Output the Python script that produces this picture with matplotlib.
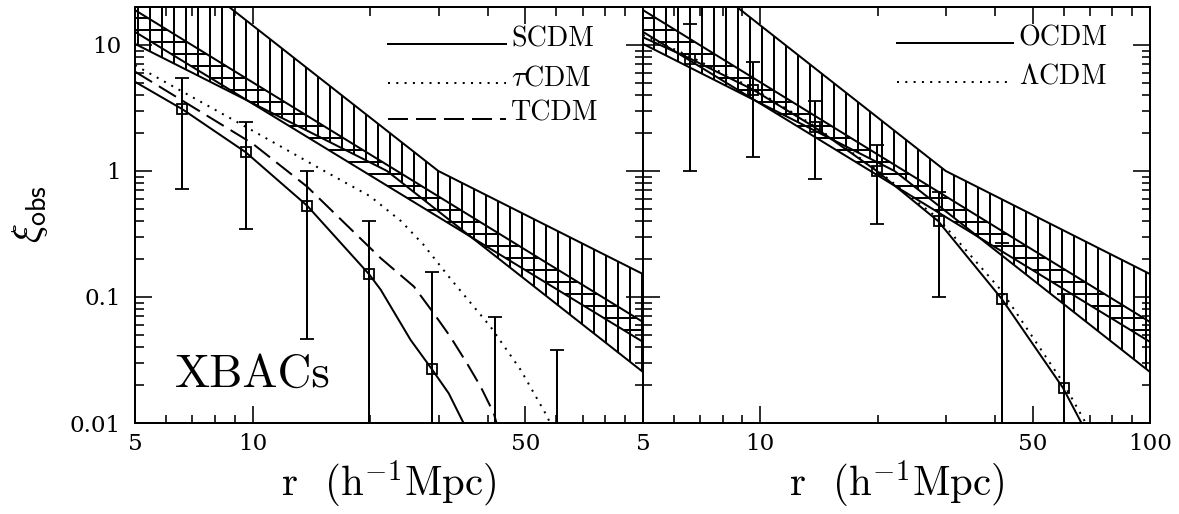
import numpy as np
import matplotlib
matplotlib.use('Agg')
import matplotlib.pyplot as plt
from matplotlib.ticker import FixedLocator, FixedFormatter, NullFormatter

plt.rcParams['font.family'] = 'cmr10'
plt.rcParams['mathtext.fontset'] = 'cm'
plt.rcParams['axes.formatter.use_mathtext'] = True
plt.rcParams['hatch.linewidth'] = 2.0
plt.rcParams['lines.scale_dashes'] = False

# separations of the measured points (h^-1 Mpc)
r_pts = [6.6, 9.6, 13.8, 19.9, 28.8, 41.7, 60.3]

# left panel: points and 1-sigma limits (very low limits run off the bottom)
xi_left = [3.1, 1.41, 0.53, 0.151, 0.0267, 0.003, 0.0007]
hi_left = [5.5, 2.43, 1.0, 0.40, 0.158, 0.069, 0.038]
lo_left = [0.72, 0.348, 0.046, 1e-4, 1e-4, 1e-4, 1e-4]

# right panel
xi_right = [7.8, 4.4, 2.25, 1.0, 0.40, 0.097, 0.019]
hi_right = [14.6, 7.3, 3.6, 1.6, 0.685, 0.27, 0.105]
lo_right = [1.0, 1.28, 0.86, 0.38, 0.10, 1e-4, 1e-4]

# model curves
r_scdm = [5, 6.6, 9.6, 13.8, 19.9, 21.3, 25.4, 28.8, 31.8, 34.7, 36.5]
xi_scdm = [5.1, 3.1, 1.41, 0.53, 0.151, 0.114, 0.0456, 0.0267, 0.0172, 0.01, 0.007]

r_tau = [5, 10, 15, 20, 24, 27.4, 32.1, 40.7, 48.6, 56.9, 59.5]
xi_tau = [6.9, 2.09, 1.03, 0.63, 0.40, 0.26, 0.14, 0.058, 0.0264, 0.0112, 0.008]

r_tcdm = [5, 10, 13.8, 21.3, 25.9, 29.1, 32.1, 35.4, 38.4, 41.5, 43.0]
xi_tcdm = [6.14, 1.65, 0.75, 0.203, 0.121, 0.0743, 0.0484, 0.0298, 0.0194, 0.0119, 0.008]

r_ocdm = [5, 6.6, 9.6, 13.7, 19.9, 28.6, 41.6, 59.8, 66.7, 69.0]
xi_ocdm = [11.5, 7.8, 4.4, 2.25, 1.0, 0.40, 0.097, 0.019, 0.01, 0.008]

r_lcdm = [5, 6.6, 9.6, 13.7, 19.9, 28.6, 41.6, 59.8, 68.4, 70.5]
xi_lcdm = [12.0, 8.1, 4.5, 2.3, 1.02, 0.42, 0.112, 0.021, 0.01, 0.008]

# observed power-law bands
r_wide_hi = [5, 29.9, 100]
xi_wide_hi = [77, 1.0, 0.152]
r_wide_lo = [5, 22.1, 100]
xi_wide_lo = [10.2, 1.0, 0.0254]
r_nar = [5, 100]
xi_nar_hi = [18.9, 0.0633]
xi_nar_lo = [12.7, 0.044]

LW = 2.0
DOTS = (0, (2.0, 6.3))
DASH = (0, (20, 8))

fig = plt.figure(figsize=(1179 / 72, 514 / 72), dpi=72)
ax1 = fig.add_axes([135 / 1179, 91 / 514, 508 / 1179, 416 / 514])
ax2 = fig.add_axes([643 / 1179, 91 / 514, 507 / 1179, 416 / 514])


def draw_bands(ax):
    x = np.concatenate([r_wide_hi, r_wide_lo[::-1]])
    y = np.concatenate([xi_wide_hi, xi_wide_lo[::-1]])
    ax.fill(x, y, facecolor='none', edgecolor='k', hatch='|', linewidth=LW, zorder=2)
    x = np.concatenate([r_nar, r_nar[::-1]])
    y = np.concatenate([xi_nar_hi, xi_nar_lo[::-1]])
    ax.fill(x, y, facecolor='none', edgecolor='k', hatch='-', linewidth=LW, zorder=2)


def draw_points(ax, xi, hi, lo):
    xi = np.array(xi)
    yerr = [xi - np.array(lo), np.array(hi) - xi]
    ax.errorbar(r_pts, xi, yerr=yerr, fmt='s', ms=10.5, mfc='none', mec='k', mew=1.8,
                ecolor='k', elinewidth=LW, capsize=7, capthick=LW, zorder=4)


def style_axes(ax, left_labels):
    ax.set_xscale('log')
    ax.set_yscale('log')
    ax.set_xlim(5, 100)
    ax.set_ylim(0.01, 20)
    ax.xaxis.set_major_locator(FixedLocator([5, 10, 50, 100]))
    ax.xaxis.set_minor_locator(FixedLocator([6, 7, 8, 9, 20, 30, 40, 60, 70, 80, 90]))
    ax.xaxis.set_minor_formatter(NullFormatter())
    ax.yaxis.set_major_locator(FixedLocator([0.01, 0.1, 1, 10]))
    ax.yaxis.set_minor_locator(FixedLocator(
        [m * d for d in (0.01, 0.1, 1) for m in range(2, 10)] + [20]))
    ax.yaxis.set_minor_formatter(NullFormatter())
    ax.tick_params(which='both', direction='in', top=True, right=True, width=1.6)
    ax.tick_params(which='major', length=17)
    ax.tick_params(which='minor', length=8.5)
    ax.tick_params(axis='x', pad=10)
    ax.tick_params(axis='y', pad=14)
    if left_labels:
        ax.xaxis.set_major_formatter(FixedFormatter(['5', '10', '50', '']))
        ax.yaxis.set_major_formatter(FixedFormatter(['0.01', '0.1', '1', '10']))
    else:
        ax.xaxis.set_major_formatter(FixedFormatter(['5', '10', '50', '100']))
        ax.yaxis.set_major_formatter(NullFormatter())
    for lab in ax.get_xticklabels() + ax.get_yticklabels():
        lab.set_fontfamily('DejaVu Serif')
        lab.set_fontsize(23)
    for sp in ax.spines.values():
        sp.set_linewidth(2.0)
    ax.text(0.5, -0.178, r'r  (h$^{-1}$Mpc)', transform=ax.transAxes,
            ha='center', va='baseline', fontsize=41)


def legend_row(ax, x0, x1, y, ls, label):
    ax.plot([x0, x1], [y, y], transform=ax.transAxes, color='k', lw=LW, ls=ls,
            clip_on=False)
    ax.text(x1 + 0.011, y - 0.005, label, transform=ax.transAxes,
            ha='left', va='baseline', fontsize=28)


# left panel: SCDM, tau CDM, TCDM
draw_bands(ax1)
ax1.plot(r_scdm, xi_scdm, color='k', lw=LW, zorder=3)
ax1.plot(r_tau, xi_tau, color='k', lw=LW, ls=DOTS, zorder=3)
ax1.plot(r_tcdm, xi_tcdm, color='k', lw=LW, ls=DASH, zorder=3)
draw_points(ax1, xi_left, hi_left, lo_left)
style_axes(ax1, True)
legend_row(ax1, 0.498, 0.730, 0.911, '-', 'SCDM')
legend_row(ax1, 0.498, 0.730, 0.817, DOTS, r'$\tau$CDM')
legend_row(ax1, 0.498, 0.730, 0.731, DASH, 'TCDM')
ax1.text(0.079, 0.087, 'XBACs', transform=ax1.transAxes, ha='left', va='baseline',
         fontsize=47)

# right panel: OCDM and Lambda CDM
draw_bands(ax2)
ax2.plot(r_ocdm, xi_ocdm, color='k', lw=LW, zorder=3)
ax2.plot(r_lcdm, xi_lcdm, color='k', lw=LW, ls=DOTS, zorder=3)
draw_points(ax2, xi_right, hi_right, lo_right)
style_axes(ax2, False)
legend_row(ax2, 0.501, 0.730, 0.913, '-', 'OCDM')
legend_row(ax2, 0.501, 0.730, 0.820, DOTS, r'$\Lambda$CDM')

fig.text(30 / 1179, 1 - 214 / 514, r'$\xi_{\mathsf{obs}}$', rotation=90,
         ha='center', va='center', fontsize=40)

fig.savefig('out.png', dpi=72)
